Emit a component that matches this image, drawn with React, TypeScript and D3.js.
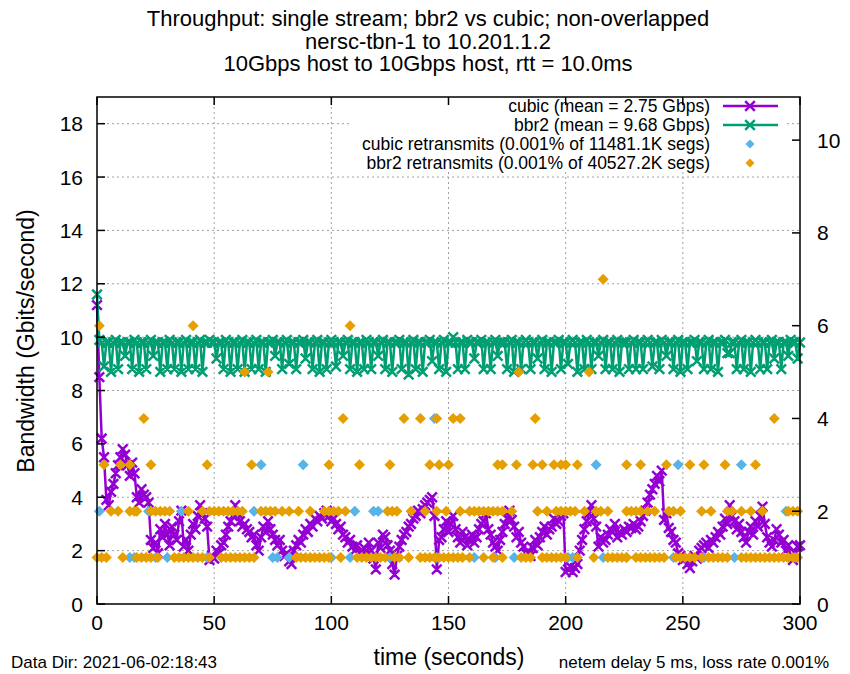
import React from 'react';
import * as d3 from 'd3';

// ---------- data ----------
const titleLines = [
  'Throughput: single stream; bbr2 vs cubic; non-overlapped',
  'nersc-tbn-1 to 10.201.1.2',
  '10Gbps host to 10Gbps host, rtt = 10.0ms',
];
const xTicks = [0, 50, 100, 150, 200, 250, 300];
const yTicks = [0, 2, 4, 6, 8, 10, 12, 14, 16, 18];
const y2Ticks = [0, 2, 4, 6, 8, 10];
const legendLabels = [
  'cubic (mean = 2.75 Gbps)',
  'bbr2 (mean = 9.68 Gbps)',
  'cubic retransmits (0.001% of 11481.1K segs)',
  'bbr2 retransmits (0.001% of 40527.2K segs)',
];

// cubic throughput, one value per second (t = 0..300)
const cubic = [
  11.2, 8.5, 6.2, 5.5, 3.9, 3.7, 4.2, 4.5, 4.9, 5.2, 5.5, 5.8, 5.6, 5.2, 4.8, 5.3, 4.9, 4.0, 3.8, 4.3,
  4.1, 4.0, 3.8, 2.4, 2.1, 2.3, 1.9, 2.8, 2.5, 3.0, 2.6, 2.2, 2.9, 2.6, 2.4, 3.1, 3.5, 2.15, 2.4, 2.0,
  2.6, 3.0, 2.8, 3.3, 3.7, 3.4, 3.2, 2.9, 1.65, 1.8, 1.7, 2.0, 1.9, 2.2, 2.3, 2.6, 2.9, 3.1, 3.3, 3.7,
  3.4, 3.1, 2.9, 3.0, 2.8, 2.7, 2.5, 2.6, 2.2, 2.0, 2.5, 2.9, 2.7, 3.1, 2.8, 2.6, 2.4, 2.2, 2.4, 2.0,
  1.8, 1.9, 1.6, 1.5, 2.0, 2.2, 2.4, 2.3, 2.6, 2.8, 2.7, 3.0, 2.9, 3.2, 3.1, 3.3, 3.2, 3.4, 3.5, 3.3,
  3.1, 3.2, 3.0, 2.8, 2.9, 2.6, 2.5, 2.3, 2.4, 2.15, 2.0, 2.2, 1.9, 2.0, 2.1, 1.8, 2.3, 2.0, 1.7, 1.3,
  2.3, 2.1, 2.6, 2.5, 2.2, 2.0, 1.5, 1.1, 1.8, 2.15, 2.4, 2.6, 2.7, 2.9, 3.0, 3.2, 3.3, 3.5, 3.4, 3.55,
  3.7, 3.8, 3.9, 4.0, 3.3, 1.3, 2.4, 2.5, 2.8, 3.1, 2.7, 3.0, 3.3, 2.8, 2.5, 2.3, 2.7, 2.5, 2.2, 2.4,
  2.6, 2.3, 2.5, 2.8, 3.0, 3.1, 3.4, 2.8, 2.6, 2.3, 2.15, 2.0, 2.4, 2.7, 3.0, 3.2, 3.5, 3.15, 2.9, 2.5,
  2.7, 2.3, 2.15, 1.9, 2.0, 1.8, 2.1, 2.4, 2.2, 2.5, 2.7, 2.9, 2.6, 2.8, 2.9, 3.2, 3.0, 3.1, 3.3, 3.4,
  1.2, 1.3, 1.4, 1.2, 1.35, 1.5, 2.0, 2.4, 2.8, 3.1, 3.4, 3.7, 3.2, 2.9, 2.15, 2.5, 2.3, 2.4, 2.6, 2.8,
  2.7, 3.0, 2.5, 2.7, 2.6, 2.8, 2.7, 2.9, 2.85, 3.0, 2.8, 2.9, 3.1, 3.3, 3.5, 3.8, 4.1, 4.3, 4.5, 4.8,
  4.6, 5.0, 3.15, 3.4, 2.85, 2.7, 2.4, 2.3, 1.9, 1.8, 1.65, 1.7, 1.5, 1.35, 1.6, 1.8, 1.7, 2.0, 2.1, 2.2,
  2.3, 2.1, 2.4, 2.3, 2.5, 2.7, 2.6, 2.9, 3.2, 3.0, 3.7, 3.3, 3.1, 2.8, 3.0, 2.7, 2.5, 2.3, 2.7, 2.9,
  2.6, 3.1, 2.9, 3.3, 3.65, 3.0, 2.5, 2.3, 2.15, 2.4, 2.8, 2.6, 2.3, 2.4, 2.0, 2.2, 1.8, 1.65, 1.9, 2.15,
  2.2,
];

// bbr2 throughput, one value per second (t = 0..300)
const bbr2 = [
  11.6, 9.9, 9.8, 8.9, 9.8, 9.8, 8.7, 9.8, 9.9, 8.8, 9.8, 9.8, 9.3, 9.8, 9.8, 8.8, 9.9, 9.8, 8.7, 9.8,
  9.8, 8.8, 9.8, 9.9, 9.3, 9.8, 9.8, 8.7, 9.8, 9.8, 8.8, 9.9, 9.8, 8.8, 9.8, 9.8, 8.7, 9.8, 9.9, 8.8,
  9.8, 9.8, 8.8, 9.8, 9.9, 8.7, 9.8, 9.8, 9.9, 9.8, 9.8, 9.2, 9.8, 9.8, 8.8, 9.9, 9.8, 8.7, 9.8, 9.8,
  8.8, 9.8, 9.9, 8.7, 9.8, 9.8, 8.8, 9.8, 9.9, 8.8, 9.8, 9.8, 8.7, 9.8, 9.8, 9.9, 9.3, 9.8, 9.8, 8.8,
  9.8, 9.9, 9.0, 9.8, 9.8, 8.8, 9.8, 9.8, 9.9, 9.2, 9.8, 9.8, 8.8, 9.8, 9.9, 8.7, 9.8, 9.8, 8.8, 9.8,
  9.9, 9.8, 8.9, 9.8, 9.8, 9.3, 9.8, 9.9, 8.8, 9.8, 9.8, 8.7, 9.8, 9.8, 8.8, 9.9, 9.8, 8.8, 9.8, 9.8,
  9.3, 9.8, 9.9, 8.8, 9.8, 9.8, 8.7, 9.8, 9.8, 9.9, 8.8, 9.8, 9.8, 8.6, 9.8, 9.9, 8.8, 9.8, 9.8, 8.7,
  9.8, 9.8, 9.9, 9.1, 9.8, 9.8, 8.8, 9.8, 9.9, 8.7, 9.8, 9.8, 10.0, 9.8, 8.8, 9.8, 9.8, 8.8, 9.9, 9.8,
  9.8, 9.2, 9.8, 9.8, 9.9, 8.8, 9.8, 9.8, 8.8, 9.8, 9.9, 9.3, 9.8, 9.8, 9.8, 8.8, 9.8, 9.9, 8.7, 9.8,
  9.8, 8.8, 9.8, 9.9, 9.8, 8.8, 9.8, 9.8, 9.2, 9.8, 9.9, 8.8, 9.8, 9.8, 8.7, 9.8, 9.8, 9.9, 8.8, 9.8,
  9.8, 9.0, 9.8, 9.9, 9.8, 8.7, 9.8, 9.8, 8.8, 9.9, 9.8, 8.8, 9.8, 9.8, 9.3, 9.8, 9.9, 8.8, 9.8, 9.8,
  8.8, 9.8, 9.9, 8.7, 9.8, 9.8, 9.8, 8.8, 9.8, 9.9, 8.8, 9.8, 9.8, 8.8, 9.8, 9.9, 9.8, 8.9, 9.8, 9.8,
  8.8, 9.9, 9.8, 9.3, 9.8, 9.8, 8.8, 9.8, 9.9, 8.7, 9.8, 9.8, 8.8, 9.8, 9.8, 9.9, 9.1, 9.8, 9.8, 8.8,
  9.8, 9.9, 8.8, 9.8, 9.8, 8.7, 9.8, 9.8, 9.9, 9.4, 9.4, 9.8, 9.8, 8.8, 9.8, 9.9, 8.8, 9.8, 9.8, 8.7,
  9.8, 9.9, 9.8, 8.8, 9.8, 9.8, 8.8, 9.8, 9.9, 9.2, 9.8, 9.8, 8.8, 9.8, 9.8, 9.3, 9.9, 9.8, 9.8, 9.2,
  9.8,
];

// retransmits: [second, count] (plotted on y2)
const cubicRetx: [number, number][] = [
  [144, 4],
  [70, 3], [88, 3], [213, 3], [248, 3], [275, 3],
  [1, 2], [22, 2], [36, 2], [67, 2], [110, 2], [118, 2], [120, 2], [294, 2],
  [14, 1], [16, 1], [25, 1], [30, 1], [47, 1], [75, 1], [77, 1], [82, 1], [100, 1], [108, 1], [125, 1],
  [145, 1], [161, 1], [170, 1], [178, 1], [201, 1], [203, 1], [216, 1], [226, 1], [246, 1], [259, 1],
  [272, 1], [298, 1],
];

const bbr2Retx: [number, number][] = [
  [216, 7],
  [1, 6], [41, 6], [108, 6],
  [63, 5], [73, 5], [180, 5], [210, 5],
  [20, 4], [105, 4], [131, 4], [138, 4], [145, 4], [152, 4], [155, 4], [187, 4], [289, 4],
  [3, 3], [10, 3], [14, 3], [23, 3], [47, 3], [66, 3], [99, 3], [112, 3], [125, 3], [142, 3], [146, 3],
  [150, 3], [171, 3], [173, 3], [179, 3], [186, 3], [190, 3], [195, 3], [198, 3], [200, 3], [205, 3],
  [226, 3], [232, 3], [243, 3], [253, 3], [259, 3], [268, 3], [281, 3],
  [6, 2], [9, 2], [14, 2], [16, 2], [17, 2], [23, 2], [25, 2], [27, 2], [29, 2], [31, 2], [39, 2],
  [45, 2], [48, 2], [50, 2], [52, 2], [54, 2], [56, 2], [58, 2], [60, 2], [62, 2], [70, 2], [72, 2],
  [74, 2], [76, 2], [79, 2], [82, 2], [86, 2], [91, 2], [97, 2], [99, 2], [101, 2], [103, 2], [106, 2],
  [124, 2], [126, 2], [128, 2], [134, 2], [140, 2], [145, 2], [149, 2], [155, 2], [159, 2], [161, 2],
  [163, 2], [165, 2], [167, 2], [169, 2], [171, 2], [173, 2], [177, 2], [188, 2], [192, 2], [196, 2],
  [198, 2], [200, 2], [202, 2], [204, 2], [208, 2], [213, 2], [215, 2], [218, 2], [226, 2], [228, 2],
  [230, 2], [232, 2], [235, 2], [238, 2], [244, 2], [246, 2], [249, 2], [258, 2], [262, 2], [269, 2],
  [271, 2], [275, 2], [279, 2], [284, 2], [295, 2], [297, 2], [299, 2],
  [0, 1], [2, 1], [4, 1], [11, 1], [17, 1], [19, 1], [21, 1], [23, 1], [26, 1], [33, 1], [35, 1],
  [37, 1], [39, 1], [41, 1], [43, 1], [45, 1], [48, 1], [53, 1], [55, 1], [57, 1], [59, 1], [61, 1],
  [63, 1], [65, 1], [67, 1], [85, 1], [87, 1], [89, 1], [91, 1], [93, 1], [95, 1], [97, 1], [99, 1],
  [104, 1], [111, 1], [113, 1], [115, 1], [117, 1], [119, 1], [121, 1], [123, 1], [127, 1], [129, 1],
  [133, 1], [138, 1], [140, 1], [142, 1], [144, 1], [146, 1], [148, 1], [150, 1], [152, 1], [154, 1],
  [156, 1], [159, 1], [165, 1], [169, 1], [173, 1], [181, 1], [183, 1], [185, 1], [190, 1], [192, 1],
  [194, 1], [196, 1], [198, 1], [200, 1], [205, 1], [212, 1], [218, 1], [220, 1], [222, 1], [224, 1],
  [226, 1], [230, 1], [232, 1], [234, 1], [236, 1], [238, 1], [240, 1], [242, 1], [247, 1], [249, 1],
  [251, 1], [253, 1], [255, 1], [258, 1], [261, 1], [263, 1], [265, 1], [267, 1], [269, 1], [275, 1],
  [277, 1], [279, 1], [281, 1], [283, 1], [285, 1], [287, 1], [289, 1], [291, 1], [293, 1], [295, 1],
  [297, 1], [299, 1],
];

// ---------- styling ----------
const FONT = '"Liberation Sans", Arial, Helvetica, sans-serif';
const C_CUBIC = '#9400d3';
const C_BBR2 = '#009e73';
const C_CUBIC_R = '#56b4e9';
const C_BBR2_R = '#e69f00';

const W = 850;
const H = 674;
const L = 97, R = 800, T = 97, B = 604;
const LW = 2.5;
const MK = 4.8;
const DM = 5.5;

function crossPath(pts: [number, number][], s: number) {
  return pts
    .map(([px, py]) => `M${px - s},${py - s}L${px + s},${py + s}M${px - s},${py + s}L${px + s},${py - s}`)
    .join('');
}
function diamondPath(pts: [number, number][], s: number) {
  return pts
    .map(([px, py]) => `M${px},${py - s}L${px + s},${py}L${px},${py + s}L${px - s},${py}Z`)
    .join('');
}

export default function App() {
  const x = d3.scaleLinear().domain([0, 300]).range([L, R]);
  const y = d3.scaleLinear().domain([0, 19]).range([B, T]);
  const y2 = d3.scaleLinear().domain([0, 10.93]).range([B, T]);

  const line = d3
    .line<number>()
    .x((_, i) => x(i))
    .y((d) => y(d));

  const cubicPts = cubic.map((v, i) => [x(i), y(v)] as [number, number]);
  const bbrPts = bbr2.map((v, i) => [x(i), y(v)] as [number, number]);
  const cubicRPts = cubicRetx.map(([t, c]) => [x(t), y2(c)] as [number, number]);
  const bbrRPts = bbr2Retx.map(([t, c]) => [x(t), y2(c)] as [number, number]);

  const legendY = [106, 125, 144, 163];
  const legTextX = 710;
  const legSample = [723, 778];

  return (
    <svg
      width={W}
      height={H}
      style={{ position: 'absolute', left: 0, top: 0, background: '#fff' }}
      fontFamily={FONT}
    >
      <rect x={0} y={0} width={W} height={H} fill="#fff" />
      {/* title */}
      {titleLines.map((t, i) => (
        <text key={i} x={428} y={26 + i * 22.5} textAnchor="middle" fontSize={22} fill="#000">
          {t}
        </text>
      ))}

      {/* grid */}
      <g stroke="#a0a0a0" strokeWidth={1} strokeDasharray="2,3">
        {xTicks.slice(1, -1).map((t) => (
          <line key={'gx' + t} x1={x(t)} x2={x(t)} y1={B} y2={T} />
        ))}
        {yTicks.slice(1).map((t) => (
          <line key={'gy' + t} x1={L} x2={R} y1={y(t)} y2={y(t)} />
        ))}
      </g>

      {/* opaque key background */}
      <rect x={352} y={98} width={433} height={73} fill="#fff" />

      {/* data */}
      <path d={line(cubic) || ''} fill="none" stroke={C_CUBIC} strokeWidth={LW} strokeLinejoin="round" />
      <path d={crossPath(cubicPts, MK)} fill="none" stroke={C_CUBIC} strokeWidth={LW} />
      <path d={line(bbr2) || ''} fill="none" stroke={C_BBR2} strokeWidth={LW} strokeLinejoin="round" />
      <path d={crossPath(bbrPts, MK)} fill="none" stroke={C_BBR2} strokeWidth={LW} />
      <path d={diamondPath(cubicRPts, DM)} fill={C_CUBIC_R} stroke="none" />
      <path d={diamondPath(bbrRPts, DM)} fill={C_BBR2_R} stroke="none" />

      {/* frame */}
      <rect x={L} y={T} width={R - L} height={B - T} fill="none" stroke="#000" strokeWidth={1.5} />

      {/* ticks */}
      <g stroke="#000" strokeWidth={1.5}>
        {xTicks.map((t) => (
          <g key={'tx' + t}>
            <line x1={x(t)} x2={x(t)} y1={B} y2={B - 8} />
            <line x1={x(t)} x2={x(t)} y1={T} y2={T + 8} />
          </g>
        ))}
        {yTicks.map((t) => (
          <line key={'ty' + t} x1={L} x2={L + 8} y1={y(t)} y2={y(t)} />
        ))}
        {y2Ticks.map((t) => (
          <line key={'ty2' + t} x1={R} x2={R - 8} y1={y2(t)} y2={y2(t)} />
        ))}
      </g>

      {/* tick labels */}
      <g fontSize={21} fill="#000">
        {xTicks.map((t) => (
          <text key={'lx' + t} x={x(t)} y={630} textAnchor="middle">
            {t}
          </text>
        ))}
        {yTicks.map((t) => (
          <text key={'ly' + t} x={83} y={y(t) + 7.5} textAnchor="end">
            {t}
          </text>
        ))}
        {y2Ticks.map((t) => (
          <text key={'ly2' + t} x={817} y={y2(t) + 7.5} textAnchor="start">
            {t}
          </text>
        ))}
      </g>

      {/* axis labels */}
      <text x={449} y={665} textAnchor="middle" fontSize={23} fill="#000">
        time (seconds)
      </text>
      <text
        transform={`translate(34,341) rotate(-90)`}
        textAnchor="middle"
        fontSize={23}
        fill="#000"
      >
        Bandwidth (Gbits/second)
      </text>

      {/* footnotes */}
      <text x={11} y={668} fontSize={17} fill="#000">
        Data Dir: 2021-06-02:18:43
      </text>
      <text x={829} y={668} fontSize={17} textAnchor="end" fill="#000">
        netem delay 5 ms, loss rate 0.001%
      </text>

      {/* legend */}
      <g fontSize={17.5} fill="#000">
        {legendLabels.map((t, i) => (
          <text key={'lg' + i} x={legTextX} y={legendY[i] + 6} textAnchor="end">
            {t}
          </text>
        ))}
      </g>
      <line x1={legSample[0]} x2={legSample[1]} y1={legendY[0]} y2={legendY[0]} stroke={C_CUBIC} strokeWidth={LW} />
      <path d={crossPath([[750, legendY[0]]], MK)} stroke={C_CUBIC} strokeWidth={LW} fill="none" />
      <line x1={legSample[0]} x2={legSample[1]} y1={legendY[1]} y2={legendY[1]} stroke={C_BBR2} strokeWidth={LW} />
      <path d={crossPath([[750, legendY[1]]], MK)} stroke={C_BBR2} strokeWidth={LW} fill="none" />
      <path d={diamondPath([[750, legendY[2]]], 4.5)} fill={C_CUBIC_R} />
      <path d={diamondPath([[750, legendY[3]]], 4.5)} fill={C_BBR2_R} />
    </svg>
  );
}
